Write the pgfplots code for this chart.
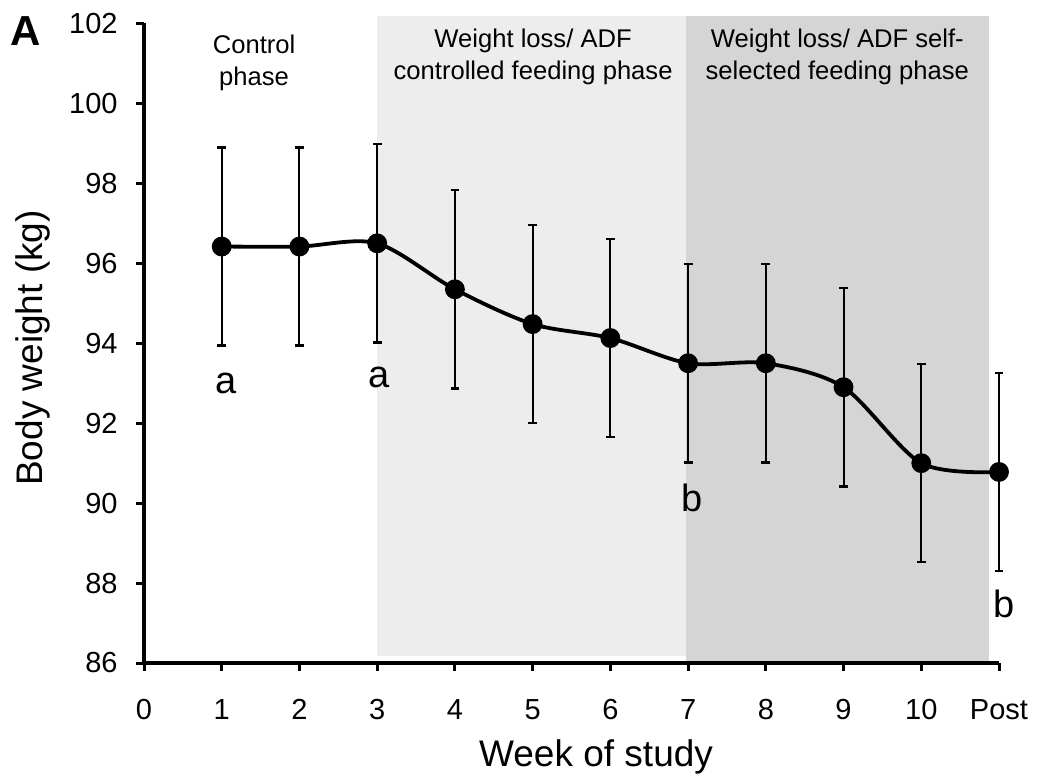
\documentclass[border=0pt]{standalone}
\usepackage{fontspec}
\setmainfont{Liberation Sans}
\usepackage{pgfplots}
\pgfplotsset{compat=1.18}
\definecolor{lightph}{HTML}{EDEDED}
\definecolor{darkph}{HTML}{D5D5D5}
\pgfplotstableread{
x  y      e
1  96.42  2.48
2  96.42  2.48
3  96.50  2.48
4  95.35  2.48
5  94.48  2.48
6  94.13  2.48
7  93.50  2.48
8  93.50  2.48
9  92.90  2.48
10 91.00  2.48
11 90.78  2.48
}\weights
\begin{document}
\begin{tikzpicture}
\useasboundingbox (0,0) rectangle (518.5pt,388pt);
\begin{axis}[
  at={(72pt,56.5pt)}, anchor=south west,
  scale only axis, width=427.5pt, height=319.75pt,
  xmin=0, xmax=11, ymin=86, ymax=102,
  clip=false,
  axis x line*=bottom, axis y line*=left,
  axis line style={line width=1.75pt, -},
  xtick={0,...,11}, xticklabels={0,1,2,3,4,5,6,7,8,9,10,Post},
  ytick={86,88,...,102},
  tick align=outside, major tick length=4pt,
  tick style={line width=1.5pt, black},
  ticklabel style={font=\fontsize{14.5}{16}\selectfont},
  /pgf/number format/assume math mode=true,
  xticklabel style={anchor=base, inner sep=0pt, yshift=-24pt},
  yticklabel style={anchor=east, inner sep=0pt, xshift=-9pt},
  xlabel={Week of study},
  ylabel={Body weight (kg)},
  label style={font=\fontsize{18.5}{22}\selectfont},
  xlabel style={at={(axis description cs:0.5287,-0.1626)}, anchor=base, inner sep=0pt},
  ylabel style={at={(axis description cs:-0.1193,0.4926)}, anchor=base, inner sep=0pt},
]
\addplot[draw=none, fill=lightph] coordinates {(3,86.17) (6.97,86.17) (6.97,102.19) (3,102.19)} -- cycle;
\addplot[draw=none, fill=darkph] coordinates {(6.97,86.05) (10.87,86.05) (10.87,102.19) (6.97,102.19)} -- cycle;
\addplot[black, line width=1.9pt, smooth, mark=*, mark size=4pt,
  error bars/.cd, y dir=both, y explicit, error mark=-,
  error bar style={line width=1pt, black},
  error mark options={rotate=90, mark size=2.2pt, line width=1.2pt, black}]
  table[x=x, y=y, y error=e] {\weights};
\node[font=\fontsize{12.8}{14}\selectfont, anchor=base] at (axis cs:1.416,101.24) {Control};
\node[font=\fontsize{12.8}{14}\selectfont, anchor=base] at (axis cs:1.416,100.46) {phase};
\node[font=\fontsize{12.8}{14}\selectfont, anchor=base] at (axis cs:5.006,101.39) {Weight loss/ ADF};
\node[font=\fontsize{12.8}{14}\selectfont, anchor=base] at (axis cs:5.006,100.59) {controlled feeding phase};
\node[font=\fontsize{12.8}{14}\selectfont, anchor=base] at (axis cs:8.92,101.39) {Weight loss/ ADF self-};
\node[font=\fontsize{12.8}{14}\selectfont, anchor=base] at (axis cs:8.92,100.59) {selected feeding phase};
\node[font=\fontsize{19}{22}\selectfont, anchor=base] at (axis cs:1.055,92.75) {a};
\node[font=\fontsize{19}{22}\selectfont, anchor=base] at (axis cs:3.02,92.90) {a};
\node[font=\fontsize{19}{22}\selectfont, anchor=base] at (axis cs:7.05,89.80) {b};
\node[font=\fontsize{19}{22}\selectfont, anchor=base] at (axis cs:11.06,87.14) {b};
\end{axis}
\node[font=\bfseries\fontsize{21}{24}\selectfont, inner sep=0pt] at (12.8pt,372.5pt) {A};
\end{tikzpicture}
\end{document}
